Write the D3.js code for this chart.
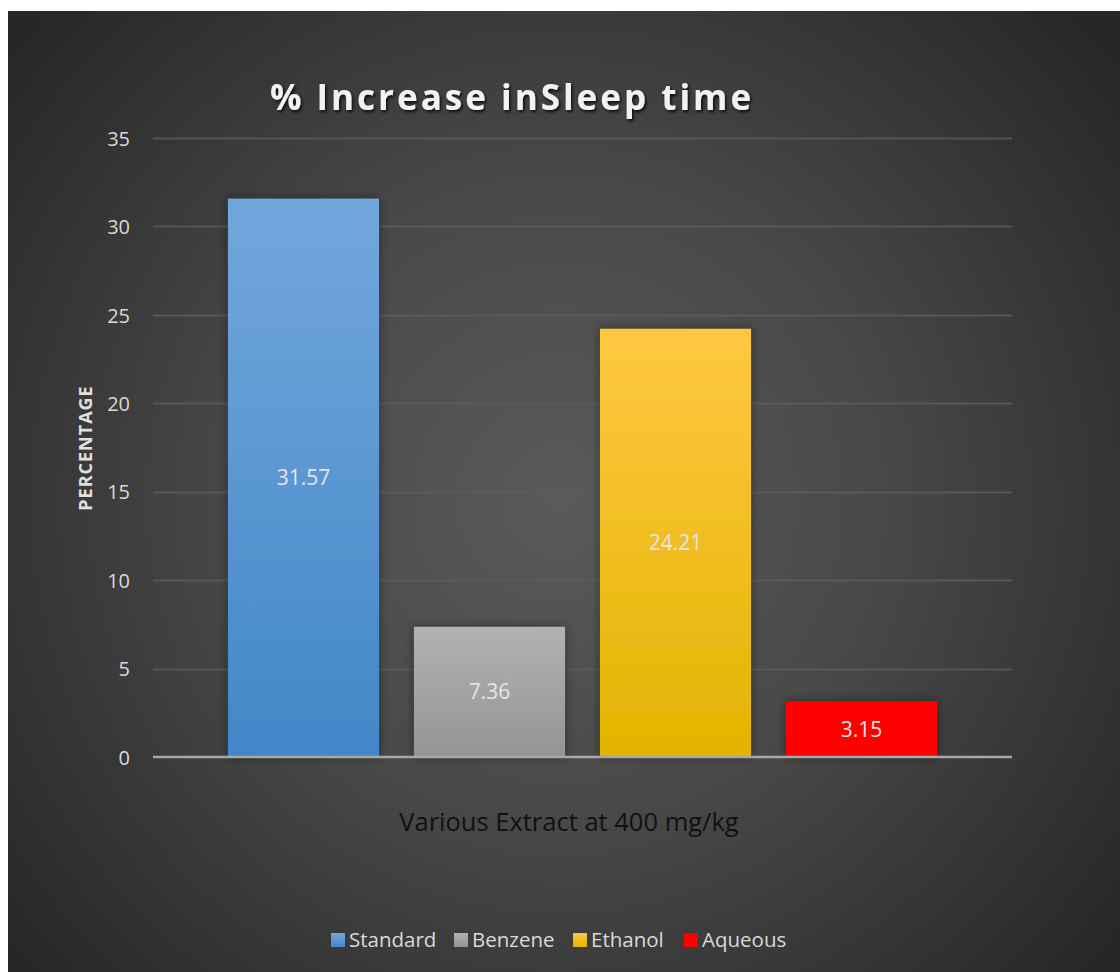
<!DOCTYPE html>
<html>
<head>
<meta charset="utf-8">
<script src="https://cdn.jsdelivr.net/npm/d3@7/dist/d3.min.js"></script>
<style>
  html, body { margin: 0; padding: 0; background: #ffffff; }
  svg { display: block; }
</style>
</head>
<body>
<script>
// Chart data
const seriesNames = ["Standard", "Benzene", "Ethanol", "Aqueous"];
const seriesValues = [31.57, 7.36, 24.21, 3.15];
const valueLabels = ["31.57", "7.36", "24.21", "3.15"];
const yTicks = [0, 5, 10, 15, 20, 25, 30, 35];
const chartTitle = "% Increase inSleep time";
const yAxisTitle = "PERCENTAGE";
const xAxisTitle = "Various Extract at 400 mg/kg";

// Fill gradients: [top colour, bottom colour]
const seriesColors = [
  ["#72a7dc", "#4287c8"],
  ["#b2b2b2", "#949494"],
  ["#ffc843", "#e3b400"],
  ["#ff0000", "#ff0000"]
];

const W = 1120, H = 972;
const svg = d3.select("body").append("svg").attr("width", W).attr("height", H);
const defs = svg.append("defs");

// Background panel radial gradient
const bg = defs.append("radialGradient").attr("id", "bgGrad")
  .attr("gradientUnits", "userSpaceOnUse")
  .attr("cx", 560).attr("cy", 500).attr("r", 720);
bg.append("stop").attr("offset", "0%").attr("stop-color", "#5a5a5a");
bg.append("stop").attr("offset", "45%").attr("stop-color", "#484848");
bg.append("stop").attr("offset", "100%").attr("stop-color", "#262626");

seriesColors.forEach((c, i) => {
  const g = defs.append("linearGradient").attr("id", "barGrad" + i)
    .attr("x1", 0).attr("y1", 0).attr("x2", 0).attr("y2", 1);
  g.append("stop").attr("offset", "0%").attr("stop-color", c[0]);
  g.append("stop").attr("offset", "100%").attr("stop-color", c[1]);
});

const shadow = defs.append("filter").attr("id", "barShadow")
  .attr("x", "-20%").attr("y", "-20%").attr("width", "140%").attr("height", "140%");
shadow.append("feDropShadow").attr("dx", 0).attr("dy", 0).attr("stdDeviation", 5)
  .attr("flood-color", "#000").attr("flood-opacity", 0.45);

const titleShadow = defs.append("filter").attr("id", "titleShadow")
  .attr("x", "-10%").attr("y", "-30%").attr("width", "120%").attr("height", "160%");
titleShadow.append("feDropShadow").attr("dx", 1.5).attr("dy", 2).attr("stdDeviation", 1.5)
  .attr("flood-color", "#000").attr("flood-opacity", 0.8);

svg.append("rect").attr("x", 8).attr("y", 11).attr("width", W - 8).attr("height", H - 11)
  .attr("fill", "url(#bgGrad)");

// Scales
const plotLeft = 153, plotRight = 1012, plotTop = 138, plotBottom = 757;
const y = d3.scaleLinear().domain([0, 35]).range([plotBottom, plotTop]);
const x = d3.scaleBand().domain(seriesNames).range([plotLeft, plotRight])
  .paddingInner(0.188).paddingOuter(0.403);

const font = "'Open Sans', 'Noto Sans', sans-serif";

// Gridlines
svg.append("g").selectAll("line").data(yTicks.filter(t => t > 0)).join("line")
  .attr("x1", plotLeft).attr("x2", plotRight)
  .attr("y1", d => Math.round(y(d)) + 0.5).attr("y2", d => Math.round(y(d)) + 0.5)
  .attr("stroke", "#5e5e5e").attr("stroke-width", 2).attr("opacity", 0.75);

// Y axis tick labels
const yAxis = d3.axisLeft(y).tickValues(yTicks).tickSize(0).tickPadding(0);
const yg = svg.append("g").attr("transform", `translate(130,0)`).call(yAxis);
yg.select(".domain").remove();
yg.selectAll("text").attr("fill", "#d9d9d9").attr("font-size", 20)
  .attr("font-family", font).attr("dy", "0.36em");

// Bars
svg.append("g").selectAll("rect").data(seriesValues).join("rect")
  .attr("x", (d, i) => x(seriesNames[i]))
  .attr("y", d => y(d))
  .attr("width", x.bandwidth())
  .attr("height", d => y(0) - y(d))
  .attr("fill", (d, i) => `url(#barGrad${i})`)
  .attr("filter", "url(#barShadow)");

// Value labels centred in bars
svg.append("g").selectAll("text").data(seriesValues).join("text")
  .attr("x", (d, i) => x(seriesNames[i]) + x.bandwidth() / 2)
  .attr("y", d => (y(d) + y(0)) / 2)
  .attr("dy", "0.36em")
  .attr("text-anchor", "middle")
  .attr("fill", "#e6e6e6").attr("font-size", 21).attr("font-family", font)
  .text((d, i) => valueLabels[i]);

// Baseline
svg.append("line").attr("x1", plotLeft).attr("x2", plotRight)
  .attr("y1", y(0)).attr("y2", y(0))
  .attr("stroke", "#a8a8a8").attr("stroke-width", 2.5);

// Title
svg.append("text").attr("x", 512).attr("y", 110).attr("text-anchor", "middle")
  .attr("fill", "#f2f2f2").attr("font-size", 35).attr("font-weight", "bold")
  .attr("font-family", font).attr("letter-spacing", 3)
  .attr("filter", "url(#titleShadow)")
  .text(chartTitle);

// Y axis title
svg.append("text").attr("transform", "translate(92,448) rotate(-90)")
  .attr("text-anchor", "middle").attr("fill", "#e0e0e0")
  .attr("font-size", 18).attr("font-weight", "bold").attr("font-family", font)
  .attr("letter-spacing", 1)
  .text(yAxisTitle);

// X axis title
svg.append("text").attr("x", 569).attr("y", 831).attr("text-anchor", "middle")
  .attr("fill", "#111111").attr("font-size", 25.5).attr("font-family", font)
  .text(xAxisTitle);

// Legend
const legendX = [331, 454, 573, 684];
const lg = svg.append("g").selectAll("g").data(seriesNames).join("g")
  .attr("transform", (d, i) => `translate(${legendX[i]},933)`);
lg.append("rect").attr("width", 14).attr("height", 14)
  .attr("fill", (d, i) => `url(#barGrad${i})`);
lg.append("text").attr("x", 18).attr("y", 7).attr("dy", "0.36em")
  .attr("fill", "#d9d9d9").attr("font-size", 20.5).attr("font-family", font)
  .text(d => d);
</script>
</body>
</html>
